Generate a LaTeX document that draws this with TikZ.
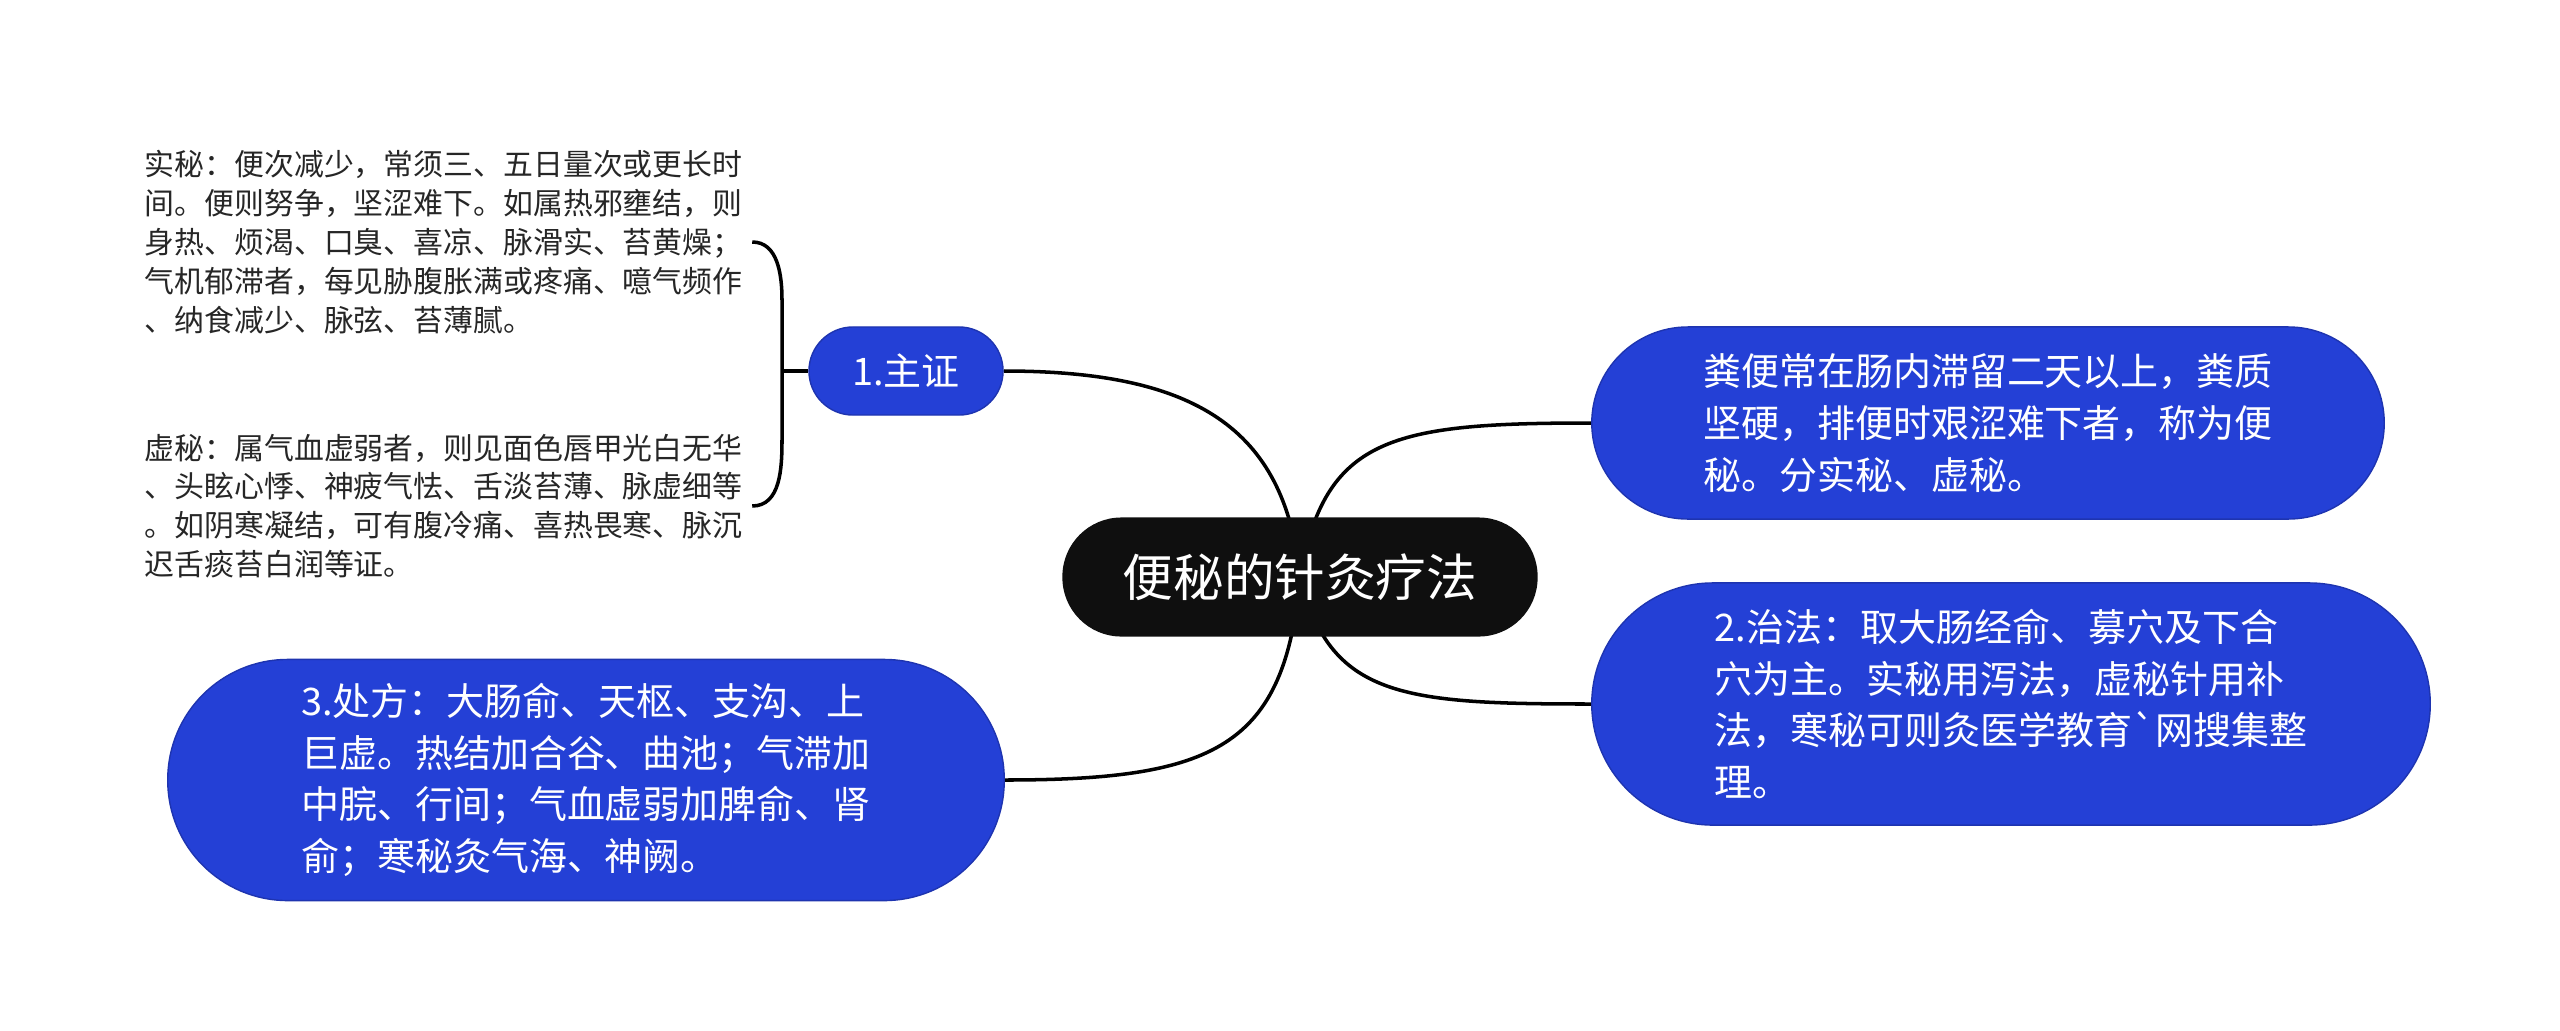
\documentclass[tikz,border=0pt]{standalone}
\usepackage{fontspec}
\newfontfamily\cjk{Noto Sans CJK SC}
\usetikzlibrary{backgrounds}
\definecolor{topicblue}{RGB}{36,64,214}
\definecolor{topicedge}{RGB}{30,52,176}
\definecolor{rootblack}{RGB}{15,15,15}
\tikzset{
  rootnode/.style={fill=rootblack, text=white, rounded corners=0.59cm,
    minimum width=4.75cm, minimum height=1.19cm, inner sep=0pt,
    font=\cjk\fontsize{14.4}{17}\selectfont},
  topic/.style={fill=topicblue, draw=topicedge, line width=0.4pt, text=white,
    align=left, inner sep=0pt, font=\cjk\fontsize{10.8}{14.7}\selectfont},
  note/.style={anchor=west, align=left, inner sep=0pt, text=black!85,
    font=\cjk\fontsize{8.5}{11.05}\selectfont},
  link/.style={line width=1pt, black}
}
\begin{document}
\begin{tikzpicture}[x=0.01cm, y=-0.01cm]
    \useasboundingbox (0,0) rectangle (2560,1030);

    % noeud central
    \node[rootnode] (root) at (1300,577) {便秘的针灸疗法};

    % branches
    \node[topic, minimum width=1.94cm, minimum height=0.88cm, rounded corners=0.44cm] (zhu) at (906,371) {1.主证};
    \node[topic, minimum width=7.92cm, minimum height=1.92cm, rounded corners=0.96cm] (def) at (1988,423)
        {粪便常在肠内滞留二天以上，粪质\\坚硬，排便时艰涩难下者，称为便\\秘。分实秘、虚秘。};
    \node[topic, minimum width=8.38cm, minimum height=2.42cm, rounded corners=1.21cm] (zhi) at (2011,704)
        {2.治法：取大肠经俞、募穴及下合\\穴为主。实秘用泻法，虚秘针用补\\法，寒秘可则灸医学教育`网搜集整\\理。};
    \node[topic, minimum width=8.36cm, minimum height=2.41cm, rounded corners=1.2cm] (chu) at (586,780)
        {3.处方：大肠俞、天枢、支沟、上\\巨虚。热结加合谷、曲池；气滞加\\中脘、行间；气血虚弱加脾俞、肾\\俞；寒秘灸气海、神阙。};

    % sous-branches de 1.主证
    \node[note] (shi) at (144,242)
        {实秘：便次减少，常须三、五日量次或更长时\\间。便则努争，坚涩难下。如属热邪壅结，则\\身热、烦渴、口臭、喜凉、脉滑实、苔黄燥；\\气机郁滞者，每见胁腹胀满或疼痛、噫气频作\\、纳食减少、脉弦、苔薄腻。};
    \node[note] (xu) at (144,506)
        {虚秘：属气血虚弱者，则见面色唇甲光白无华\\、头眩心悸、神疲气怯、舌淡苔薄、脉虚细等\\。如阴寒凝结，可有腹冷痛、喜热畏寒、脉沉\\迟舌痰苔白润等证。};

    % accolade
    \coordinate (bt) at ([xshift=0.09cm]shi.east);
    \coordinate (bb) at ([xshift=0.09cm]xu.east);
    \coordinate (bx) at (782,371);
    \draw[link] (bt) to[out=0,in=90] (782,300) -- (782,440) to[out=-90,in=0] (bb);
    \draw[link] (bx) -- (zhu.west);

    % liaisons depuis le centre
    \begin{scope}[on background layer]
        \draw[link] (root.center) .. controls +(-15,-150) and +(190,0) .. (zhu.east);
        \draw[link] (root.center) .. controls +(25,-140) and +(-200,0) .. (def.west);
        \draw[link] (root.center) .. controls +(30,120) and +(-190,0) .. (zhi.west);
        \draw[link] (root.center) .. controls +(-15,170) and +(210,0) .. (chu.east);
    \end{scope}
\end{tikzpicture}
\end{document}
